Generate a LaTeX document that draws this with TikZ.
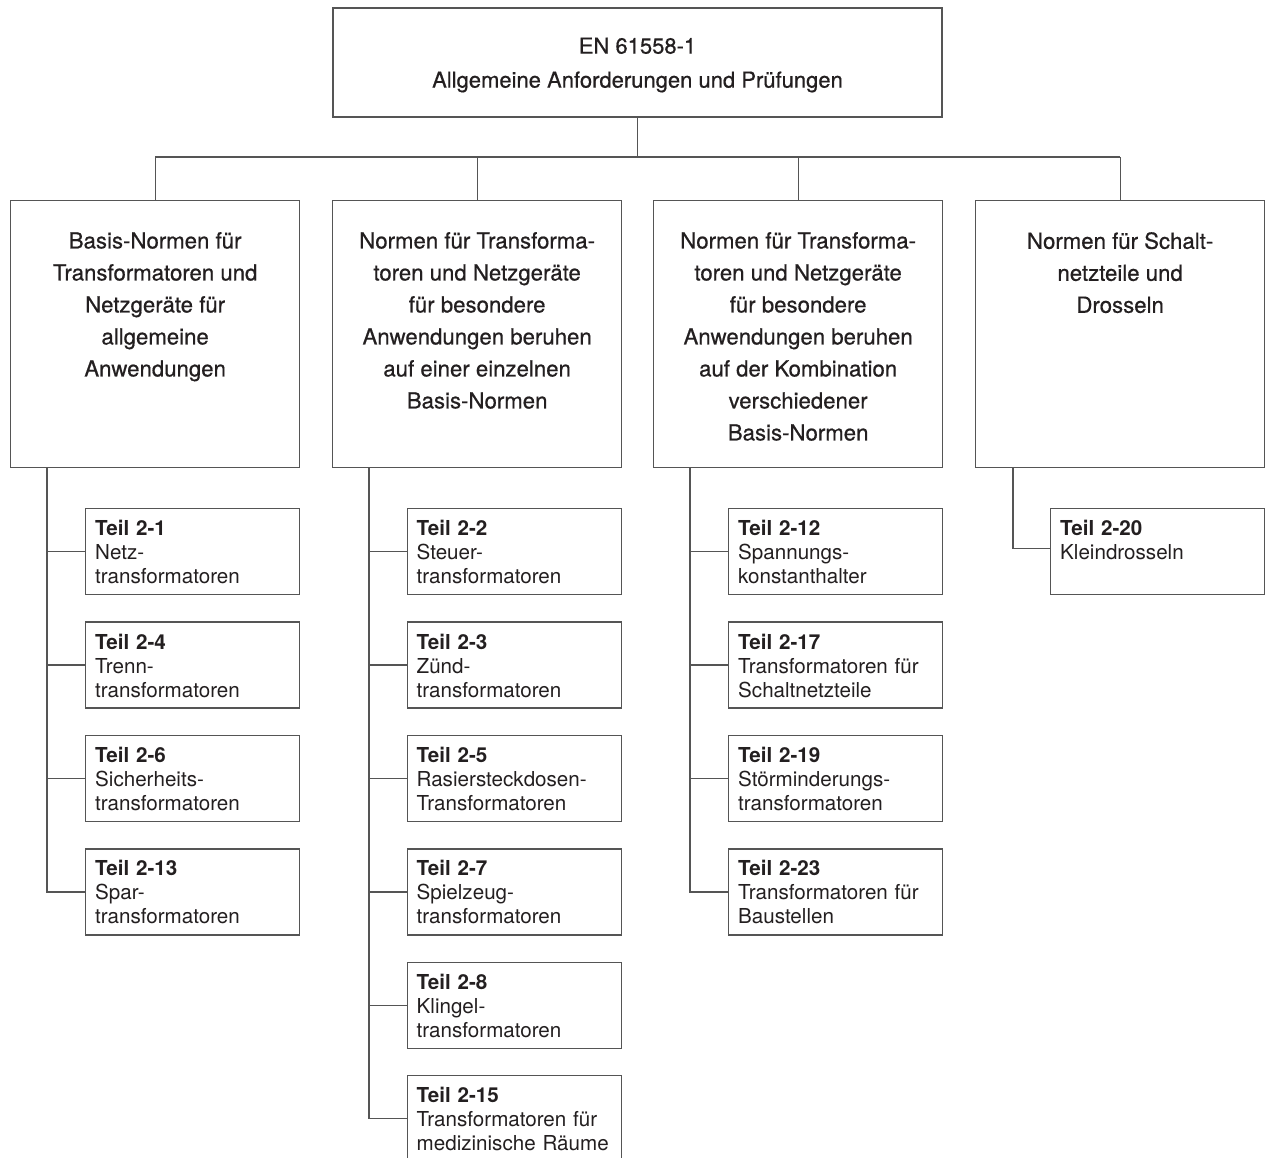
\documentclass[tikz,border=0pt]{standalone}
\usepackage{fontspec}
\setmainfont{TeX Gyre Heros}
\newfontfamily\headfont{TeX Gyre Heros}[FakeBold=0.6]
\definecolor{ln}{RGB}{85,85,85}
\definecolor{tx}{RGB}{35,31,32}
\tikzset{
  bx/.style={draw=ln,line width=1.3pt,rectangle,inner sep=0pt},
  topbox/.style={bx,minimum width=609pt,minimum height=109pt,align=center,font=\headfont\fontsize{22}{34}\selectfont,text=tx},
  colbox/.style={bx,minimum width=289pt,minimum height=267pt,anchor=north west},
  coltext/.style={anchor=north,inner sep=0pt,align=center,font=\headfont\fontsize{22.2}{32}\selectfont,text=tx},
  subbox/.style={bx,minimum width=214pt,minimum height=86pt,anchor=north west},
  subtext/.style={anchor=north west,inner sep=0pt,align=left,text width=205pt,font=\fontsize{20.6}{24}\selectfont,text=tx},
  conn/.style={draw=ln,line width=1.3pt}
}
\newcommand{\teilbox}[5]{%
  \node[subbox] (#1) at (#2,#3) {};
  \node[subtext] (#1t) at ([xshift=10pt,yshift=-12.2pt]#1.north west) {\textbf{Teil #4}\\#5};
}
\begin{document}
\begin{tikzpicture}[x=1pt,y=-1pt]
\useasboundingbox[fill=white] (0,0) rectangle (1266,1158);

% top box
\node[topbox] (top) at (637.5,62.5) {};
\node[inner sep=0pt,align=center,font=\headfont\fontsize{22}{34}\selectfont,text=tx] (toptext) at ([yshift=-2.5pt]top.center) {EN 61558-1\\Allgemeine Anforderungen und Prüfungen};
\coordinate (bus) at (637.5,157);

% column boxes
\node[colbox] (c1) at (10,200) {};
\node[colbox] (c2) at (332,200) {};
\node[colbox] (c3) at (653,200) {};
\node[colbox] (c4) at (975,200) {};

\node[coltext] (c1t) at ([yshift=-32pt]c1.north) {Basis-Normen für\\Transformatoren und\\Netzgeräte für\\allgemeine\\Anwendungen};
\node[coltext] (c2t) at ([yshift=-32pt]c2.north) {Normen für Transforma-\\toren und Netzgeräte\\für besondere\\Anwendungen beruhen\\auf einer einzelnen\\Basis-Normen};
\node[coltext] (c3t) at ([yshift=-32pt]c3.north) {Normen für Transforma-\\toren und Netzgeräte\\für besondere\\Anwendungen beruhen\\auf der Kombination\\verschiedener\\Basis-Normen};
\node[coltext] (c4t) at ([yshift=-32pt]c4.north) {Normen für Schalt-\\netzteile und\\Drosseln};

% connectors top -> columns
\draw[conn] (top.south) -- (top.south |- bus);
\draw[conn] (c1.north |- bus) -- (c4.north |- bus);
\foreach \c in {c1,c2,c3,c4} \draw[conn] (\c.north) -- (\c.north |- bus);

% sub boxes column 1
\teilbox{s21}{85}{508}{2-1}{Netz-\\transformatoren}
\teilbox{s24}{85}{621.4}{2-4}{Trenn-\\transformatoren}
\teilbox{s26}{85}{734.8}{2-6}{Sicherheits-\\transformatoren}
\teilbox{s213}{85}{848.2}{2-13}{Spar-\\transformatoren}

% column 2
\teilbox{s22}{406.5}{508}{2-2}{Steuer-\\transformatoren}
\teilbox{s23}{406.5}{621.4}{2-3}{Zünd-\\transformatoren}
\teilbox{s25}{406.5}{734.8}{2-5}{Rasiersteckdosen-\\Transformatoren}
\teilbox{s27}{406.5}{848.2}{2-7}{Spielzeug-\\transformatoren}
\teilbox{s28}{406.5}{961.6}{2-8}{Klingel-\\transformatoren}
\teilbox{s215}{406.5}{1075}{2-15}{Transformatoren für\\medizinische Räume}

% column 3
\teilbox{s212}{728}{508}{2-12}{Spannungs-\\konstanthalter}
\teilbox{s217}{728}{621.4}{2-17}{Transformatoren für\\Schaltnetzteile}
\teilbox{s219}{728}{734.8}{2-19}{Störminderungs-\\transformatoren}
\teilbox{s223}{728}{848.2}{2-23}{Transformatoren für\\Baustellen}

% column 4
\teilbox{s220}{1050}{508}{2-20}{Kleindrosseln}

% spines
\coordinate (p1) at ([xshift=37pt]c1.south west);
\coordinate (p2) at ([xshift=37pt]c2.south west);
\coordinate (p3) at ([xshift=37pt]c3.south west);
\coordinate (p4) at ([xshift=38pt]c4.south west);

\draw[conn] (p1) |- (s213.west);
\foreach \s in {s21,s24,s26} \draw[conn] (\s.west -| p1) -- (\s.west);
\draw[conn] (p2) |- (s215.west);
\foreach \s in {s22,s23,s25,s27,s28} \draw[conn] (\s.west -| p2) -- (\s.west);
\draw[conn] (p3) |- (s223.west);
\foreach \s in {s212,s217,s219} \draw[conn] (\s.west -| p3) -- (\s.west);
\draw[conn] (p4) |- ([yshift=3pt]s220.west);
\end{tikzpicture}
\end{document}
